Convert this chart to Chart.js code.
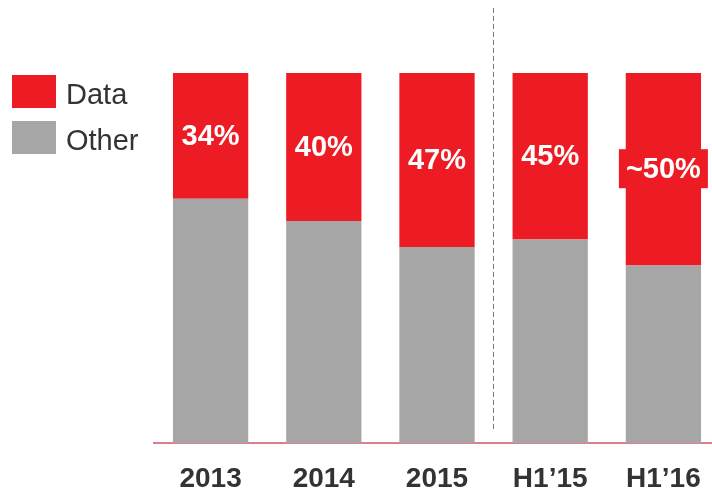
<!DOCTYPE html>
<html>
<head>
<meta charset="utf-8">
<script src="https://cdn.jsdelivr.net/npm/chart.js@4"></script>
<style>
  html, body { margin: 0; padding: 0; background: #fff; overflow: hidden; }
  #wrap { width: 720px; height: 499px; }
</style>
</head>
<body>
<div id="wrap"><canvas id="shareChart" width="720" height="499"></canvas></div>
<script>
const categories = ["2013", "2014", "2015", "H1\u201915", "H1\u201916"];
const dataShare = [34, 40, 47, 45, 52];
const otherShare = [66, 60, 53, 55, 48];
const shareLabels = ["34%", "40%", "47%", "45%", "~50%"];

const RED = "#ED1C24";
const GRAY = "#A6A6A6";

// white percentage labels in the middle of the red part
const barLabels = {
    id: "barLabels",
    afterDatasetsDraw(chart) {
        const ctx = chart.ctx;
        const meta = chart.getDatasetMeta(1);
        ctx.save();
        ctx.font = "bold 29px 'Liberation Sans', Arial, sans-serif";
        ctx.textAlign = "center";
        ctx.textBaseline = "middle";
        meta.data.forEach((bar, i) => {
            const text = shareLabels[i];
            const cy = (bar.y + bar.base) / 2;
            const w = ctx.measureText(text).width + 14;
            ctx.fillStyle = RED;
            ctx.fillRect(bar.x - w / 2, cy - 20, w, 39);
            ctx.fillStyle = "#fff";
            ctx.fillText(text, bar.x, cy + 1);
        });
        ctx.restore();
    }
};

// legend on the left and dashed divider between full years and halves
const extras = {
    id: "extras",
    afterDraw(chart) {
        const ctx = chart.ctx;
        const xs = chart.scales.x;
        ctx.save();
        const divX = (xs.getPixelForValue(2) + xs.getPixelForValue(3)) / 2 - 0.5;
        ctx.strokeStyle = "#777";
        ctx.lineWidth = 1;
        ctx.setLineDash([5, 3]);
        ctx.beginPath();
        ctx.moveTo(Math.round(divX) + 0.5, 8);
        ctx.lineTo(Math.round(divX) + 0.5, 430);
        ctx.stroke();
        ctx.setLineDash([]);

        const items = [chart.data.datasets[1], chart.data.datasets[0]];
        ctx.font = "29px 'Liberation Sans', Arial, sans-serif";
        ctx.textBaseline = "middle";
        ctx.textAlign = "left";
        items.forEach((ds, i) => {
            const top = 75 + i * 46;
            ctx.fillStyle = ds.backgroundColor;
            ctx.fillRect(12, top, 44, 33);
            ctx.fillStyle = "#333";
            ctx.fillText(ds.label, 66, top + 21);
        });
        ctx.restore();
    }
};

new Chart(document.getElementById("shareChart"), {
    type: "bar",
    data: {
        labels: categories,
        datasets: [
            { label: "Other", data: otherShare, backgroundColor: GRAY },
            { label: "Data", data: dataShare, backgroundColor: RED }
        ]
    },
    options: {
        responsive: false,
        animation: false,
        layout: { padding: { left: 154, top: 73, right: 0, bottom: 0 } },
        datasets: { bar: { categoryPercentage: 1, barPercentage: 0.665 } },
        plugins: { legend: { display: false }, tooltip: { enabled: false } },
        scales: {
            x: {
                stacked: true,
                grid: { display: false },
                border: { color: "#D9808C", width: 2 },
                afterFit(scale) { scale.height = 56; },
                ticks: {
                    color: "#333",
                    padding: 11,
                    font: { family: "'Liberation Sans', Arial, sans-serif", size: 28, weight: "bold" }
                }
            },
            y: {
                stacked: true,
                display: false,
                min: 0,
                max: 100
            }
        }
    },
    plugins: [barLabels, extras]
});
</script>
</body>
</html>
